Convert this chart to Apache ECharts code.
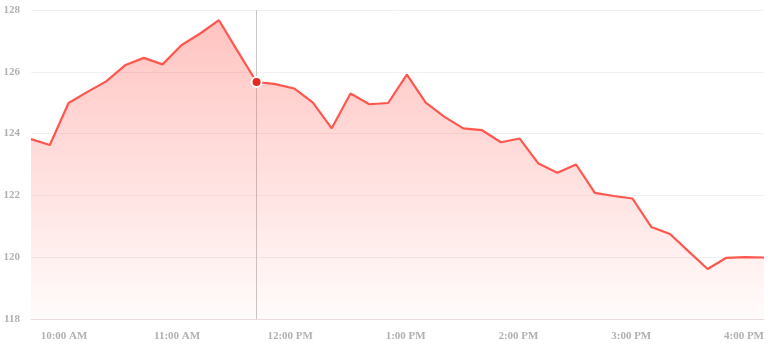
<!DOCTYPE html>
<html>
<head>
<meta charset="utf-8">
<script src="https://cdn.jsdelivr.net/npm/echarts@6/dist/echarts.min.js"></script>
<style>
html,body{margin:0;padding:0;background:#fff;}
#chart{width:768px;height:347px;}
</style>
</head>
<body>
<div id="chart"></div>
<script>
const times = [
  "9:30 AM","9:40 AM","9:50 AM","10:00 AM","10:10 AM","10:20 AM","10:30 AM","10:40 AM","10:50 AM",
  "11:00 AM","11:10 AM","11:20 AM","11:30 AM","11:40 AM","11:50 AM",
  "12:00 PM","12:10 PM","12:20 PM","12:30 PM","12:40 PM","12:50 PM",
  "1:00 PM","1:10 PM","1:20 PM","1:30 PM","1:40 PM","1:50 PM",
  "2:00 PM","2:10 PM","2:20 PM","2:30 PM","2:40 PM","2:50 PM",
  "3:00 PM","3:10 PM","3:20 PM","3:30 PM","3:40 PM","3:50 PM","4:00 PM"
];
const prices = [
  123.82,123.63,124.99,125.35,125.69,126.21,126.45,126.24,126.86,
  127.24,127.67,126.66,125.67,125.60,125.46,
  125.00,124.17,125.30,124.95,124.99,125.91,
  125.00,124.54,124.17,124.11,123.72,123.84,
  123.03,122.73,123.00,122.08,121.98,121.90,
  120.98,120.75,120.18,119.62,119.98,120.00,119.99
];
const yTicks = [118,120,122,124,126,128];
const highlightIndex = 12;

const chart = echarts.init(document.getElementById('chart'), null, {renderer:'canvas'});
const labelFont = {color:'#b0b0b0', fontFamily:'Liberation Serif', fontSize:11, fontWeight:'bold'};
chart.setOption({
  animation:false,
  backgroundColor:'#fff',
  grid:{left:31, right:4, top:10, bottom:28, containLabel:false},
  tooltip:{trigger:'axis', showContent:false,
    axisPointer:{type:'line', z:1, lineStyle:{color:'#c8c8c8', width:1, type:'solid'}}},
  xAxis:{
    type:'category', data:times, boundaryGap:false,
    axisLine:{show:true, lineStyle:{color:'#eadcdc', width:1}},
    axisTick:{show:false},
    splitLine:{show:false},
    axisLabel:Object.assign({
      margin:12, align:'right',
      interval:function(i, v){ return v.indexOf(':00 ') > 0; }
    }, labelFont)
  },
  yAxis:{
    type:'value', min:yTicks[0], max:yTicks[yTicks.length-1], interval:2,
    axisLine:{show:false}, axisTick:{show:false},
    splitLine:{lineStyle:{color:'#f0f0f0', width:1}},
    axisLabel:Object.assign({margin:11}, labelFont)
  },
  series:[{
    type:'line', z:100, data:prices, showSymbol:false, symbol:'circle', symbolSize:10,
    lineStyle:{color:'#ef4f47', width:2.2},
    itemStyle:{color:'#e8281f', borderColor:'#fff', borderWidth:2},
    emphasis:{scale:false, itemStyle:{color:'#e8281f', borderColor:'#ffffff', borderWidth:2, shadowBlur:0}},
    areaStyle:{color:new echarts.graphic.LinearGradient(0,0,0,1,[
      {offset:0, color:'rgba(239,79,71,0.5)'},
      {offset:1, color:'rgba(239,79,71,0.03)'}
    ])}
  }]
});
chart.dispatchAction({type:'showTip', seriesIndex:0, dataIndex:highlightIndex});
</script>
</body>
</html>
